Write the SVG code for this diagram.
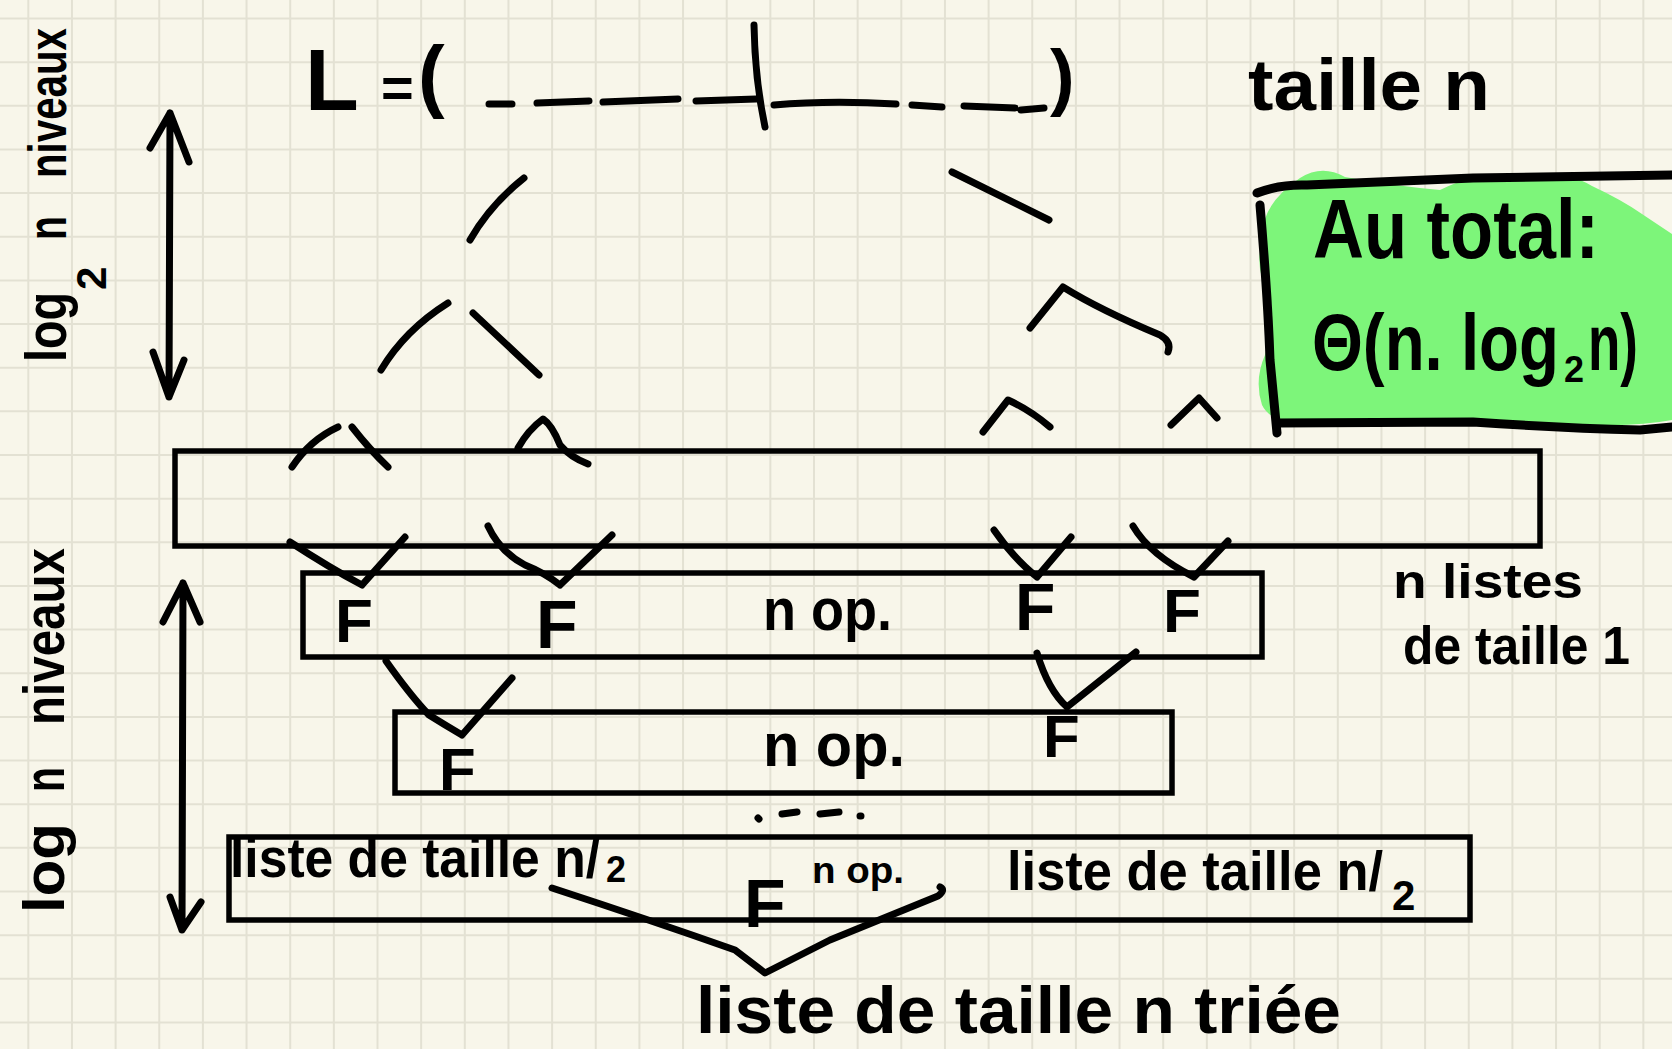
<svg xmlns="http://www.w3.org/2000/svg" width="1672" height="1049" viewBox="0 0 1672 1049">
<style>
.ink{fill:none;stroke:#000;stroke-width:7;stroke-linecap:round;stroke-linejoin:round}
.box{fill:none;stroke:#000;stroke-width:5.5}
.hw{font-family:"Liberation Sans",Arial,sans-serif;font-weight:bold;fill:#000}
.grid{fill:none;stroke:#e3e1d3;stroke-width:2}
</style>
<rect width="1672" height="1049" fill="#f8f6ea"/>
<path class="grid" d="M28.3 0V1049M71.95 0V1049M115.6 0V1049M159.25 0V1049M202.9 0V1049M246.55 0V1049M290.2 0V1049M333.85 0V1049M377.5 0V1049M421.15 0V1049M464.8 0V1049M508.45 0V1049M552.1 0V1049M595.75 0V1049M639.4 0V1049M683.05 0V1049M726.7 0V1049M770.35 0V1049M814 0V1049M857.65 0V1049M901.3 0V1049M944.95 0V1049M988.6 0V1049M1032.25 0V1049M1075.9 0V1049M1119.55 0V1049M1163.2 0V1049M1206.85 0V1049M1250.5 0V1049M1294.15 0V1049M1337.8 0V1049M1381.45 0V1049M1425.1 0V1049M1468.75 0V1049M1512.4 0V1049M1556.05 0V1049M1599.7 0V1049M1643.35 0V1049
M0 18.5H1672M0 62.15H1672M0 105.8H1672M0 149.45H1672M0 193.1H1672M0 236.75H1672M0 280.4H1672M0 324.05H1672M0 367.7H1672M0 411.35H1672M0 455H1672M0 498.65H1672M0 542.3H1672M0 585.95H1672M0 629.6H1672M0 673.25H1672M0 716.9H1672M0 760.55H1672M0 804.2H1672M0 847.85H1672M0 891.5H1672M0 935.15H1672M0 978.8H1672M0 1022.45H1672"/>

<g id="list-L">
<text class="hw" x="305" y="110" font-size="88">L</text>
<text class="hw" x="381" y="107" font-size="56">=</text>
<text class="hw" x="418" y="102" font-size="80">(</text>
<path class="ink" d="M489,104 L512,104 M537,103 L589,101 M603,102 L678,99 M696,101 L756,99 M754,25 Q755,80 765,127 M774,105 Q830,100 896,104 M912,105 L942,107 M964,106 L1015,108 M1021,110 L1044,108"/>
<text class="hw" x="1050" y="102" font-size="74">)</text>
<text class="hw" x="1248" y="110" font-size="72" textLength="242" lengthAdjust="spacingAndGlyphs">taille n</text>
</g>

<g id="label-levels-top">
<g transform="translate(66,362) rotate(-90)">
<text class="hw" x="0" y="0" font-size="58" textLength="70" lengthAdjust="spacingAndGlyphs">log</text>
<text class="hw" x="72" y="40" font-size="42">2</text>
<text class="hw" x="122" y="0" font-size="56" textLength="24" lengthAdjust="spacingAndGlyphs">n</text>
<text class="hw" x="184" y="0" font-size="54" textLength="150" lengthAdjust="spacingAndGlyphs">niveaux</text>
</g>
</g>

<g id="label-levels-bottom">
<g transform="translate(64,913) rotate(-90)">
<text class="hw" x="0" y="0" font-size="58" textLength="90" lengthAdjust="spacingAndGlyphs">log</text>
<text class="hw" x="121" y="0" font-size="58" textLength="25" lengthAdjust="spacingAndGlyphs">n</text>
<text class="hw" x="188" y="0" font-size="58" textLength="177" lengthAdjust="spacingAndGlyphs">niveaux</text>
</g>
</g>

<g id="total">
<path fill="#7df57a" d="M1300,178 Q1322,164 1345,177 Q1395,186 1440,190 Q1480,170 1520,175 Q1562,168 1592,186 Q1622,200 1642,214 Q1660,226 1672,234 L1672,420 Q1640,426 1600,425 L1320,426 Q1272,426 1262,405 Q1254,380 1265,355 Q1276,322 1270,296 Q1254,270 1262,240 Q1260,205 1300,178 Z"/>
<path class="ink" style="stroke-width:9" d="M1257,193 Q1280,184 1307,185 L1473,178 L1672,175 M1260,205 Q1268,300 1270,360 L1277,433 M1277,423 L1473,422 Q1560,428 1640,430 L1672,427"/>
<text class="hw" x="1313" y="258" font-size="84" textLength="286" lengthAdjust="spacingAndGlyphs">Au total:</text>
<text class="hw" x="1312" y="370" font-size="80" textLength="247" lengthAdjust="spacingAndGlyphs">Θ(n. log</text>
<text class="hw" x="1564" y="382" font-size="36">2</text>
<text class="hw" x="1588" y="370" font-size="80" textLength="50" lengthAdjust="spacingAndGlyphs">n)</text>
</g>

<g id="level-1">
<rect class="box" x="175" y="451" width="1365" height="95"/>
<text class="hw" x="1393" y="598" font-size="48" textLength="190" lengthAdjust="spacingAndGlyphs">n listes</text>
<text class="hw" x="1403" y="664" font-size="54" textLength="227" lengthAdjust="spacingAndGlyphs">de taille 1</text>
</g>

<g id="level-2">
<rect class="box" x="303" y="573" width="959" height="84"/>
<text class="hw" x="335" y="642" font-size="62">F</text>
<text class="hw" x="536" y="648" font-size="68">F</text>
<text class="hw" x="763" y="630" font-size="60" textLength="129" lengthAdjust="spacingAndGlyphs">n op.</text>
<text class="hw" x="1015" y="630" font-size="66">F</text>
<text class="hw" x="1163" y="632" font-size="62">F</text>
</g>

<g id="level-3">
<rect class="box" x="395" y="712" width="777" height="81"/>
<text class="hw" x="439" y="790" font-size="60">F</text>
<text class="hw" x="763" y="766" font-size="62" textLength="142" lengthAdjust="spacingAndGlyphs">n op.</text>
<text class="hw" x="1043" y="757" font-size="60">F</text>
<path class="ink" d="M758,818 L759,819 M782,814 L797,812 M820,814 L839,812 M860,816 L861,816"/>
</g>

<g id="level-4">
<rect class="box" x="229" y="837" width="1241" height="83"/>
<text class="hw" x="230" y="877" font-size="56" textLength="370" lengthAdjust="spacingAndGlyphs">liste de taille n/</text>
<text class="hw" x="606" y="882" font-size="36">2</text>
<text class="hw" x="744" y="927" font-size="68">F</text>
<text class="hw" x="812" y="883" font-size="36" textLength="92" lengthAdjust="spacingAndGlyphs">n op.</text>
<text class="hw" x="1007" y="890" font-size="56" textLength="376" lengthAdjust="spacingAndGlyphs">liste de taille n/</text>
<text class="hw" x="1392" y="910" font-size="42">2</text>
</g>

<g id="result">
<text class="hw" x="696" y="1033" font-size="66" textLength="645" lengthAdjust="spacingAndGlyphs">liste de taille n triée</text>
</g>

<g id="connectors">
<path class="ink" d="M524,178 Q490,205 470,240"/>
<path class="ink" d="M952,172 L1049,220"/>
<path class="ink" d="M381,370 Q405,330 448,303"/>
<path class="ink" d="M473,313 L539,375"/>
<path class="ink" d="M1030,328 L1063,287 Q1100,310 1160,335 Q1172,342 1168,352"/>
<path class="ink" d="M292,467 Q310,440 338,427 M352,427 Q370,450 388,467"/>
<path class="ink" d="M518,448 Q528,430 543,419 Q552,425 560,445 Q570,457 588,464"/>
<path class="ink" d="M983,432 L1008,400 Q1030,410 1050,427"/>
<path class="ink" d="M1171,425 L1199,398 L1217,418"/>
<path class="ink" d="M290,542 Q330,568 362,585 M405,537 L362,585"/>
<path class="ink" d="M488,526 Q500,552 525,565 Q545,573 560,585 M612,535 L560,585"/>
<path class="ink" d="M994,530 Q1015,560 1037,577 M1071,537 L1037,577"/>
<path class="ink" d="M1133,526 Q1150,555 1194,577 M1228,541 L1194,577"/>
<path class="ink" d="M386,661 Q410,695 429,715 Q445,725 462,735 M512,678 L462,735"/>
<path class="ink" d="M1037,653 Q1048,690 1067,707 M1136,652 L1067,707"/>
<path class="ink" d="M552,888 Q650,920 735,950 L765,973 L830,940 L938,896 Q946,890 940,887"/>
<path class="ink" d="M170,113 L169,397 M150,148 L170,113 L189,162 M153,352 L169,397 L184,360"/>
<path class="ink" d="M183,583 L182,930 M163,622 L183,583 L200,622 M170,897 L182,930 L201,902"/>
</g>
</svg>
